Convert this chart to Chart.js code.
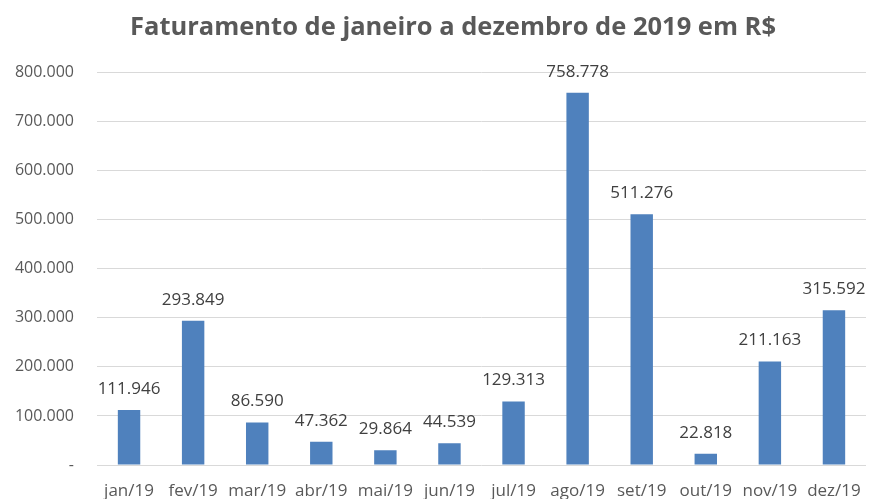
<!DOCTYPE html>
<html>
<head>
<meta charset="utf-8">
<script src="https://cdn.jsdelivr.net/npm/chart.js@4"></script>
<style>
  html, body { margin: 0; padding: 0; background: #fff; }
  #wrap { width: 892px; height: 499px; }
</style>
</head>
<body>
<div id="wrap"><canvas id="chart_faturamento"></canvas></div>
<script>
var months = ['jan/19', 'fev/19', 'mar/19', 'abr/19', 'mai/19', 'jun/19', 'jul/19', 'ago/19', 'set/19', 'out/19', 'nov/19', 'dez/19'];
var faturamento = [111946, 293849, 86590, 47362, 29864, 44539, 129313, 758778, 511276, 22818, 211163, 315592];
var yTicks = [0, 100000, 200000, 300000, 400000, 500000, 600000, 700000, 800000];

function fmt(v) {
    if (v === 0) return '-';
    return v.toLocaleString('pt-BR');
}

var fontFamily = '"Open Sans", "Liberation Sans", sans-serif';

var chart_faturamento = new Chart(document.getElementById('chart_faturamento'), {
    type: 'bar',
    data: {
        labels: months,
        datasets: [
            {
                label: 'Faturamento',
                data: faturamento,
                backgroundColor: '#4F81BD',
                categoryPercentage: 1,
                barPercentage: 0.35
            }
        ]
    },
    options: {
        animation: false,
        responsive: true,
        maintainAspectRatio: false,
        layout: {
            padding: { left: 0, right: 26, top: 0, bottom: 0 }
        },
        plugins: {
            legend: { display: false },
            tooltip: { enabled: false },
            title: {
                display: true,
                text: 'Faturamento de janeiro a dezembro de 2019 em R$',
                color: '#595959',
                font: { family: fontFamily, size: 25.5, weight: 'bold' },
                padding: { top: 12, bottom: 30 }
            }
        },
        scales: {
            x: {
                grid: { display: false, drawTicks: false },
                border: { display: false },
                ticks: {
                    color: '#595959',
                    font: { family: fontFamily, size: 17 },
                    padding: 16,
                    maxRotation: 0,
                    autoSkip: false
                },
                afterFit: function (scale) { scale.height = 34; }
            },
            y: {
                min: 0,
                max: 800000,
                afterBuildTicks: function (scale) {
                    scale.ticks = yTicks.map(function (v) { return { value: v }; });
                },
                grid: { color: '#D9D9D9', drawTicks: false, lineWidth: 1 },
                border: { display: false },
                ticks: {
                    color: '#595959',
                    font: { family: fontFamily, size: 16 },
                    padding: 23,
                    callback: function (v) { return fmt(v); }
                },
                afterFit: function (scale) { scale.width = 97; }
            }
        }
    },
    plugins: [{
        // shift the title to the right, as in the original
        id: 'titleShift',
        afterLayout: function (chart) {
            if (chart.titleBlock) {
                chart.titleBlock.left += 20;
                chart.titleBlock.right += 20;
            }
        }
    }, {
        id: 'valueLabels',
        afterDatasetsDraw: function (chart) {
            var ctx = chart.ctx;
            var meta = chart.getDatasetMeta(0);
            ctx.save();
            ctx.fillStyle = '#404040';
            ctx.font = '17px ' + fontFamily;
            ctx.textAlign = 'center';
            ctx.textBaseline = 'middle';
            meta.data.forEach(function (bar, i) {
                ctx.fillText(fmt(faturamento[i]), bar.x, bar.y - 21);
            });
            ctx.restore();
        }
    }, {
        id: 'whiteBg',
        beforeDraw: function (chart) {
            var ctx = chart.canvas.getContext('2d');
            ctx.save();
            ctx.globalCompositeOperation = 'destination-over';
            ctx.fillStyle = 'white';
            ctx.fillRect(0, 0, chart.canvas.width, chart.canvas.height);
            ctx.restore();
        }
    }]
});
</script>
</body>
</html>
